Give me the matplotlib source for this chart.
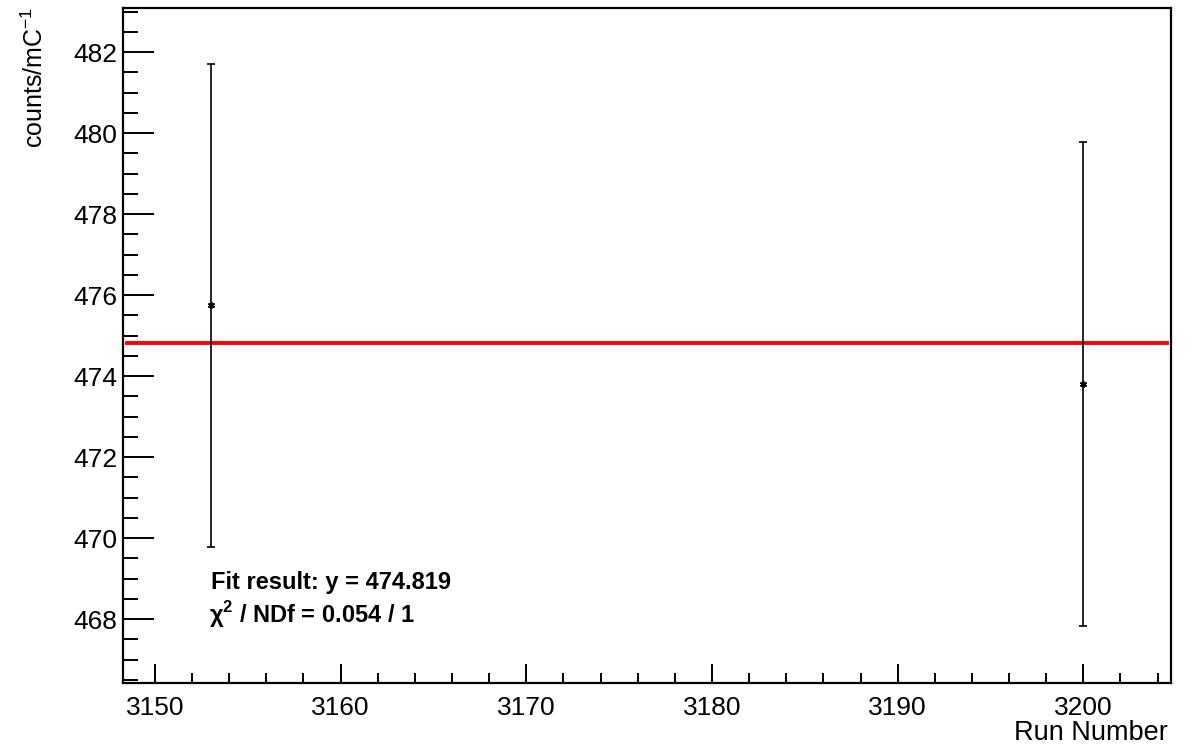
import numpy as np
import matplotlib.pyplot as plt
from matplotlib.ticker import MultipleLocator

plt.rcParams['font.family'] = ['Liberation Sans', 'DejaVu Sans']
plt.rcParams['mathtext.fontset'] = 'custom'
plt.rcParams['mathtext.rm'] = 'Liberation Sans'
plt.rcParams['mathtext.bf'] = 'Liberation Sans:bold'

# run numbers and normalized yields
runs = np.array([3153, 3200])
yields = np.array([475.75, 473.80])
errors = np.array([5.96, 5.97])

fit_value = 474.819
fit_range = [3148.5, 3204.5]
chi2_text = '0.054 / 1'

fig = plt.figure(figsize=(11.99, 7.49), dpi=100)
ax = fig.add_axes([0.1026, 0.0881, 0.874, 0.9012])

ax.errorbar(runs, yields, yerr=errors, fmt='none', ecolor='black',
    elinewidth=1.2, capsize=3, capthick=1.2, zorder=3)
ax.plot(runs, yields, ls='none', marker=(6, 2, 0), ms=5, mew=1.2,
    color='black', zorder=4)
ax.plot(fit_range, [fit_value, fit_value], color='#ff0000', lw=2.8, zorder=2)

ax.set_xlim(3148.28, 3204.72)
ax.set_ylim(466.42, 483.09)

ax.xaxis.set_major_locator(MultipleLocator(10))
ax.xaxis.set_minor_locator(MultipleLocator(2))
ax.yaxis.set_major_locator(MultipleLocator(2))
ax.yaxis.set_minor_locator(MultipleLocator(0.5))

ax.tick_params(which='both', direction='in', top=False, right=False,
    labelsize=19, width=1.4)
ax.tick_params(axis='x', which='major', length=14, pad=9)
ax.tick_params(axis='x', which='minor', length=7)
ax.tick_params(axis='y', which='major', length=22, pad=4)
ax.tick_params(axis='y', which='minor', length=11)
for s in ax.spines.values():
    s.set_linewidth(1.6)

fig.text(0.974, 0.021, 'Run Number', ha='right', va='center', fontsize=19.5)
fig.text(0.029, 0.99, 'counts/mC$^{-1}$', rotation=90, ha='center',
    va='top', fontsize=18)

fig.text(0.1762, 0.2136, 'Fit result: y = %.3f' % fit_value,
    fontsize=17, fontweight='bold', ha='left', va='baseline')
fig.text(0.1745, 0.1682, '\u03c7$^{\\mathbf{2}}$ / NDf = ' + chi2_text,
    fontsize=17, fontweight='bold', ha='left', va='baseline')

fig.savefig('out.png', dpi=100)
